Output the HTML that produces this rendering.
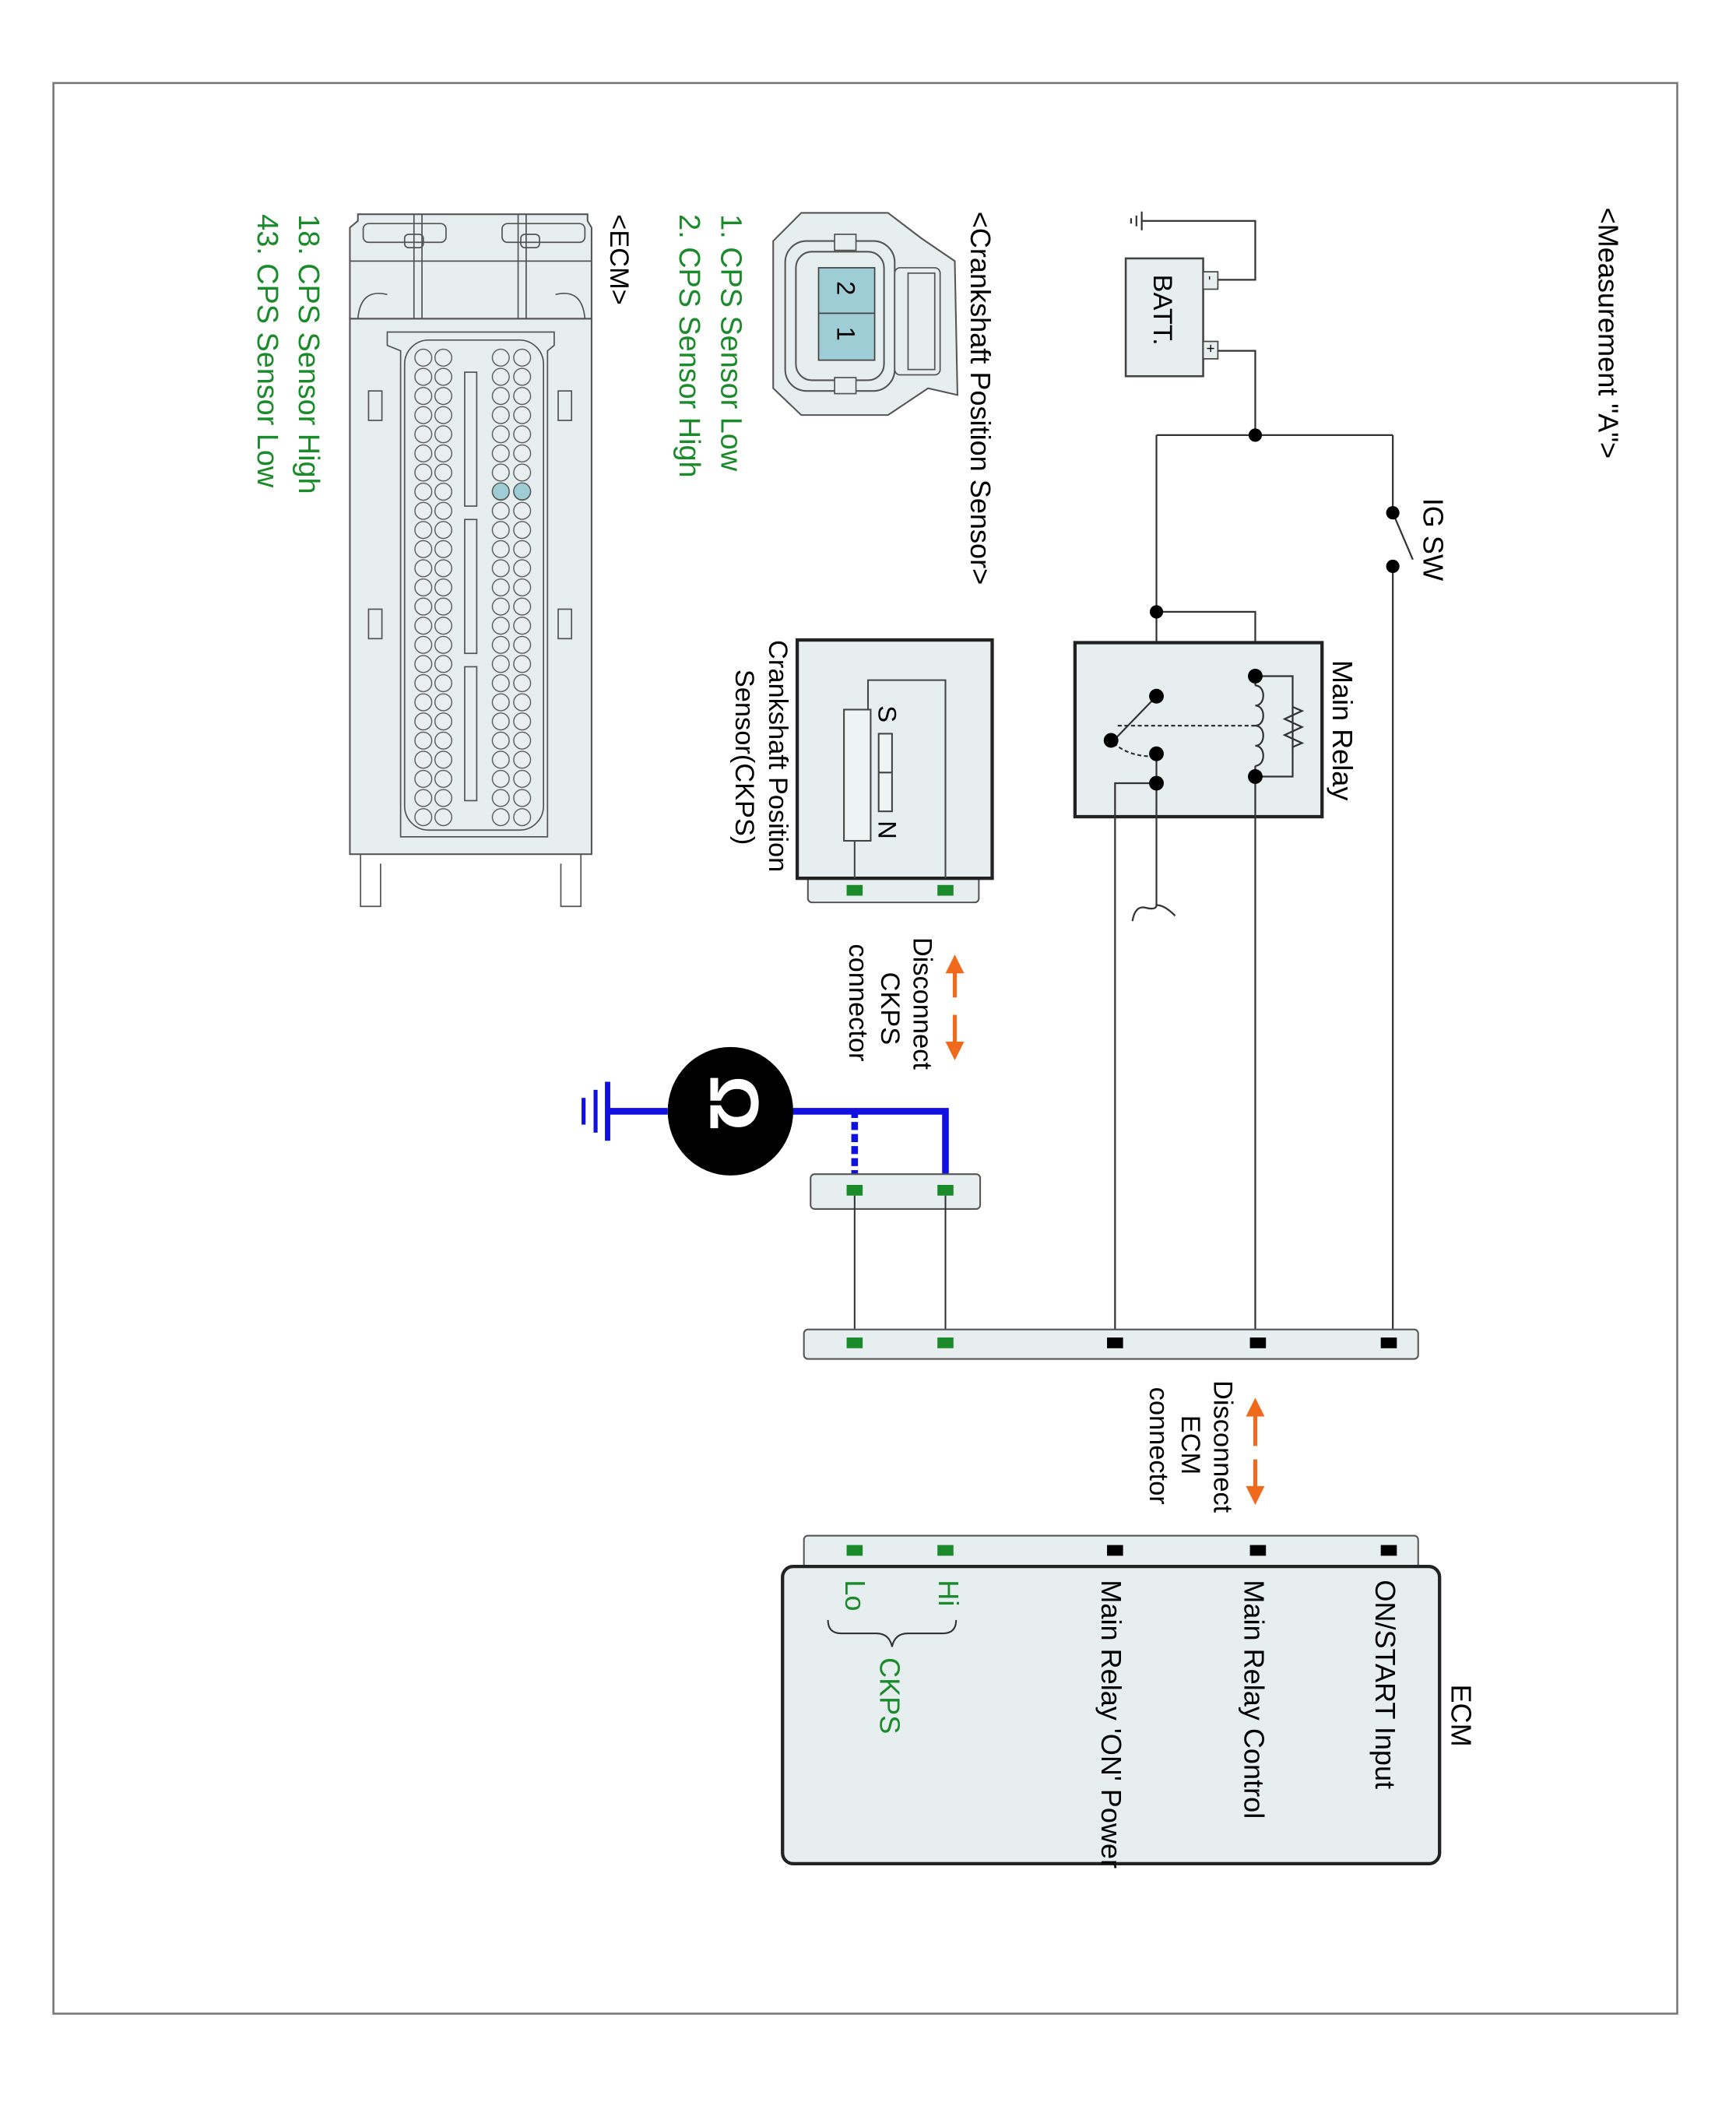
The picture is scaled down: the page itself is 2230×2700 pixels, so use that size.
<!DOCTYPE html>
<html><head><meta charset="utf-8"><style>html,body{margin:0;padding:0;background:#fff}svg{display:block}</style></head>
<body>
<svg xmlns="http://www.w3.org/2000/svg" width="2230" height="2700" viewBox="0 0 1300 1570" preserveAspectRatio="none" font-family="Liberation Sans, sans-serif">
<defs>
<pattern id="pin" patternUnits="userSpaceOnUse" x="0" y="260" width="14" height="14.3">
<circle cx="7" cy="7.15" r="6.3" fill="#e9eff1" stroke="#555" stroke-width="0.8"/>
</pattern>
</defs>
<rect x="0" y="0" width="1300" height="1570" fill="#fff"/>
<rect x="40" y="62" width="1216" height="1442" fill="none" stroke="#777" stroke-width="1.5"/>

<text transform="translate(1197,155) rotate(90)" font-size="21">&lt;Measurement "A"&gt;</text>

<!-- battery -->
<rect x="843" y="193" width="58" height="88" fill="#e6eef0" stroke="#444" stroke-width="1.5"/>
<text transform="translate(864,205) rotate(90)" font-size="20">BATT.</text>
<rect x="901" y="203" width="11" height="13" fill="#e6eef0" stroke="#444"/>
<rect x="901" y="255" width="11" height="13" fill="#e6eef0" stroke="#444"/>
<text transform="translate(903,206) rotate(90)" font-size="10">-</text>
<text transform="translate(903,257) rotate(90)" font-size="11">+</text>
<g fill="none" stroke="#333" stroke-width="1.3">
<polyline points="912,209 940,209 940,165 855,165"/>
<line x1="855" y1="158" x2="855" y2="172"/><line x1="851" y1="161" x2="851" y2="169"/><line x1="847" y1="163" x2="847" y2="167"/>
<polyline points="912,262 940,262 940,325"/>
<line x1="866" y1="325" x2="1043" y2="325"/>
<line x1="1043" y1="325" x2="1043" y2="383"/>
<line x1="1043" y1="383" x2="1058" y2="418"/>
<line x1="1043" y1="423" x2="1043" y2="1003"/>
<line x1="866" y1="325" x2="866" y2="520"/>
<polyline points="866,457 940,457 940,505"/>
</g>
<text transform="translate(1066,372) rotate(90)" font-size="21">IG SW</text>
<circle cx="940" cy="325" r="5"/><circle cx="1043" cy="383" r="5"/><circle cx="1043" cy="423" r="5"/><circle cx="866" cy="457" r="5"/>

<!-- main relay -->
<rect x="805" y="480" width="185" height="130" fill="#e6eef0" stroke="#222" stroke-width="2.5"/>
<text transform="translate(998,493) rotate(90)" font-size="21">Main Relay</text>
<g fill="none" stroke="#333" stroke-width="1.3">
<polyline points="940,505 968,505 968,580 940,580"/>
<path d="M940,512 c8,0 8,15 0,15 c8,0 8,15 0,15 c8,0 8,15 0,15 c8,0 8,15 0,15"/>
<polyline points="968,528 975,531 962,537 975,543 962,549 975,555 968,558" fill="none"/>
<line x1="940" y1="505" x2="940" y2="512"/><line x1="940" y1="572" x2="940" y2="1003"/>
<line x1="940" y1="542" x2="837" y2="542" stroke-dasharray="3,2"/>
<line x1="866" y1="520" x2="834" y2="553"/>
<path d="M834,555 Q845,565 864,565" stroke-dasharray="3,2"/>
<line x1="866" y1="563" x2="866" y2="676"/>
<polyline points="866,585 835,585 835,1003"/>
<path d="M848,688 Q850,676 858,678 Q866,680 866,676" />
<path d="M866,676 Q872,676 880,684"/>
</g>
<circle cx="940" cy="505" r="5.5"/><circle cx="940" cy="580" r="5.5"/>
<circle cx="866" cy="520" r="5.5"/><circle cx="832" cy="553" r="5.5"/>
<circle cx="866" cy="563" r="5.5"/><circle cx="866" cy="585" r="5.5"/>

<!-- CKPS sensor -->
<rect x="605" y="654" width="128" height="20" rx="3" fill="#e6eef0" stroke="#555" stroke-width="1.2"/>
<rect x="597" y="478" width="146" height="178" fill="#e6eef0" stroke="#222" stroke-width="2.5"/>
<g fill="none" stroke="#444" stroke-width="1.2">
<polyline points="640,656 640,628"/>
<polyline points="708,656 708,508 650,508 650,530"/>
<rect x="632" y="530" width="20" height="98" fill="#eef3f4"/>
<rect x="658" y="548" width="10" height="58" fill="#eef3f4"/>
<line x1="658" y1="577" x2="668" y2="577"/>
</g>
<text transform="translate(658,527) rotate(90)" font-size="19">S</text>
<text transform="translate(658,613) rotate(90)" font-size="19">N</text>
<rect x="634" y="661" width="12" height="8" fill="#1a8a2a"/><rect x="702" y="661" width="12" height="8" fill="#1a8a2a"/>
<text transform="translate(576,478) rotate(90)" font-size="20">Crankshaft Position</text>
<text transform="translate(551,500) rotate(90)" font-size="20">Sensor(CKPS)</text>

<!-- disconnect CKPS -->
<g stroke="#f06a1e" stroke-width="3" fill="#f06a1e">
<line x1="715" y1="745" x2="715" y2="725"/><polygon points="708,727 722,727 715,713" stroke="none"/>
<line x1="715" y1="758" x2="715" y2="780"/><polygon points="708,778 722,778 715,792" stroke="none"/>
</g>
<text transform="translate(684,700) rotate(90)" font-size="20">Disconnect</text>
<text transform="translate(660,726) rotate(90)" font-size="20">CKPS</text>
<text transform="translate(636,705) rotate(90)" font-size="20">connector</text>

<!-- ohmmeter -->
<g stroke="#1010e0" stroke-width="5" fill="none">
<polyline points="708,889 708,830 590,830"/>
<line x1="640" y1="889" x2="640" y2="830" stroke-dasharray="6,3"/>
<line x1="500" y1="830" x2="455" y2="830"/>
<line x1="455" y1="808" x2="455" y2="852" stroke-width="4"/>
<line x1="446" y1="814" x2="446" y2="846" stroke-width="3"/>
<line x1="437" y1="820" x2="437" y2="840" stroke-width="3"/>
</g>
<ellipse cx="547" cy="830" rx="47" ry="48" fill="#000"/>
<text transform="translate(532,803) rotate(90)" font-size="52" font-weight="bold" fill="#fff">Ω</text>

<!-- CKPS harness connector -->
<rect x="607" y="877" width="127" height="26" rx="3" fill="#e6eef0" stroke="#555" stroke-width="1.2"/>
<rect x="634" y="885" width="12" height="8" fill="#1a8a2a"/><rect x="702" y="885" width="12" height="8" fill="#1a8a2a"/>
<g stroke="#333" stroke-width="1.2"><line x1="640" y1="893" x2="640" y2="1003"/><line x1="708" y1="893" x2="708" y2="1003"/></g>

<!-- ECM harness connector -->
<rect x="602" y="993" width="460" height="22" rx="3" fill="#e6eef0" stroke="#555" stroke-width="1.2"/>
<rect x="634" y="999" width="12" height="8" fill="#1a8a2a"/><rect x="702" y="999" width="12" height="8" fill="#1a8a2a"/>
<rect x="829" y="999" width="12" height="8" fill="#000"/><rect x="936" y="999" width="12" height="8" fill="#000"/><rect x="1034" y="999" width="12" height="8" fill="#000"/>

<!-- disconnect ECM -->
<g stroke="#f06a1e" stroke-width="3" fill="#f06a1e">
<line x1="940" y1="1080" x2="940" y2="1056"/><polygon points="933,1058 947,1058 940,1044" stroke="none"/>
<line x1="940" y1="1090" x2="940" y2="1112"/><polygon points="933,1110 947,1110 940,1124" stroke="none"/>
</g>
<text transform="translate(909,1031) rotate(90)" font-size="20">Disconnect</text>
<text transform="translate(885,1057) rotate(90)" font-size="20">ECM</text>
<text transform="translate(861,1036) rotate(90)" font-size="20">connector</text>

<!-- ECM box -->
<rect x="602" y="1147" width="460" height="26" rx="3" fill="#e6eef0" stroke="#555" stroke-width="1.2"/>
<rect x="634" y="1154" width="12" height="8" fill="#1a8a2a"/><rect x="702" y="1154" width="12" height="8" fill="#1a8a2a"/>
<rect x="829" y="1154" width="12" height="8" fill="#000"/><rect x="936" y="1154" width="12" height="8" fill="#000"/><rect x="1034" y="1154" width="12" height="8" fill="#000"/>
<rect x="586" y="1170" width="492" height="222" rx="8" fill="#e6eef0" stroke="#222" stroke-width="2.5"/>
<text transform="translate(1087,1258) rotate(90)" font-size="21">ECM</text>
<text transform="translate(1030,1180) rotate(90)" font-size="21">ON/START Input</text>
<text transform="translate(932,1180) rotate(90)" font-size="21">Main Relay Control</text>
<text transform="translate(825,1180) rotate(90)" font-size="21">Main Relay 'ON' Power</text>
<text transform="translate(703,1180) rotate(90)" font-size="21" fill="#1a8a2a">Hi</text>
<text transform="translate(633,1180) rotate(90)" font-size="21" fill="#1a8a2a">Lo</text>
<text transform="translate(659,1238) rotate(90)" font-size="21" fill="#1a8a2a">CKPS</text>
<path d="M716,1210 Q716,1220 706,1220 L680,1220 Q670,1220 668,1230 Q666,1220 656,1220 L630,1220 Q620,1220 620,1210" fill="none" stroke="#333" stroke-width="1.2"/>

<!-- CKP sensor connector drawing -->
<text transform="translate(727,158) rotate(90)" font-size="21">&lt;Crankshaft Position Sensor&gt;</text>
<path d="M600,159 L665,159 L690,178 L715,195 L717,295 L695,290 L665,310 L600,310 L579,290 L579,180 Z" fill="#e6eef0" stroke="#555" stroke-width="1.2"/>
<rect x="588" y="180" width="82" height="112" rx="16" fill="#e6eef0" stroke="#555" stroke-width="1.2"/>
<rect x="596" y="188" width="66" height="96" rx="12" fill="none" stroke="#555" stroke-width="1.2"/>
<rect x="625" y="175" width="16" height="12" fill="#e6eef0" stroke="#555"/>
<rect x="625" y="282" width="16" height="12" fill="#e6eef0" stroke="#555"/>
<rect x="670" y="200" width="34" height="80" rx="4" fill="#e6eef0" stroke="#555"/>
<rect x="680" y="204" width="20" height="72" fill="none" stroke="#555"/>
<rect x="613" y="200" width="42" height="69" fill="#9fcdd6" stroke="#444"/>
<line x1="613" y1="234" x2="655" y2="234" stroke="#444"/>
<text transform="translate(627,210) rotate(90)" font-size="19">2</text>
<text transform="translate(627,244) rotate(90)" font-size="19">1</text>
<text transform="translate(540,160) rotate(90)" font-size="22" fill="#1a8a2a">1. CPS Sensor Low</text>
<text transform="translate(509,160) rotate(90)" font-size="22" fill="#1a8a2a">2. CPS Sensor High</text>

<!-- ECM connector drawing -->
<text transform="translate(457,160) rotate(90)" font-size="20">&lt;ECM&gt;</text>
<rect x="262" y="238" width="181" height="400" fill="#e6eef0" stroke="#555" stroke-width="1.2"/>
<path d="M268,165 L268,160 L440,160 L440,165 L443,170 L443,238 L262,238 L262,170 Z" fill="#e6eef0" stroke="#555" stroke-width="1.2"/>
<g fill="none" stroke="#555" stroke-width="1">
<rect x="272" y="167" width="62" height="14" rx="4"/><rect x="376" y="167" width="62" height="14" rx="4"/>
<rect x="303" y="175" width="14" height="10" rx="3"/><rect x="390" y="175" width="14" height="10" rx="3"/>
<line x1="310" y1="160" x2="310" y2="238"/><line x1="316" y1="160" x2="316" y2="238"/>
<line x1="388" y1="160" x2="388" y2="238"/><line x1="394" y1="160" x2="394" y2="238"/>
<path d="M268,238 Q270,215 290,220"/><path d="M438,238 Q436,215 416,220"/>
<line x1="262" y1="195" x2="443" y2="195"/>
<path d="M290,248 L415,248 L415,258 L410,262 L410,625 L300,625 L300,262 L290,258 Z"/>
<rect x="303" y="254" width="104" height="366" rx="18"/>
<rect x="348" y="278" width="9" height="100"/><rect x="348" y="388" width="9" height="100"/><rect x="348" y="498" width="9" height="100"/>
<rect x="276" y="292" width="10" height="22"/><rect x="418" y="292" width="10" height="22"/>
<rect x="276" y="455" width="10" height="22"/><rect x="418" y="455" width="10" height="22"/>
<path d="M270,638 L270,677 L285,677 L285,645"/><path d="M420,645 L420,677 L435,677 L435,638"/>
</g>
<g transform="translate(310,0)"><rect x="0" y="260" width="14" height="357.5" fill="url(#pin)"/></g>
<g transform="translate(325,0)"><rect x="0" y="260" width="14" height="357.5" fill="url(#pin)"/></g>
<g transform="translate(368,0)"><rect x="0" y="260" width="14" height="357.5" fill="url(#pin)"/></g>
<g transform="translate(384,0)"><rect x="0" y="260" width="14" height="357.5" fill="url(#pin)"/></g>
<circle cx="391" cy="367" r="6.3" fill="#9fcdd6" stroke="#555" stroke-width="0.8"/>
<circle cx="375" cy="367" r="6.3" fill="#9fcdd6" stroke="#555" stroke-width="0.8"/>
<text transform="translate(224,160) rotate(90)" font-size="22" fill="#1a8a2a">18. CPS Sensor High</text>
<text transform="translate(193,160) rotate(90)" font-size="22" fill="#1a8a2a">43. CPS Sensor Low</text>
</svg>
</body></html>
